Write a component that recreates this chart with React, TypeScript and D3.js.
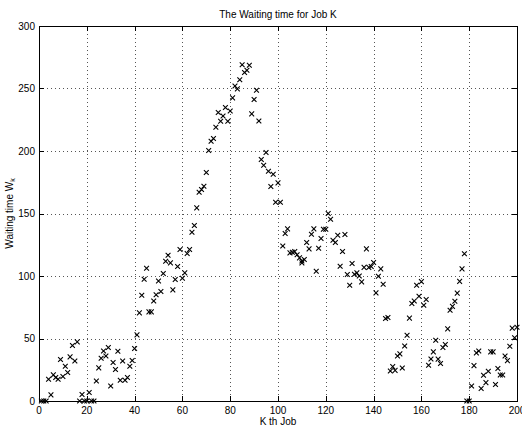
import React from "react";
import * as d3 from "d3";

const jobs = [
  1, 2, 3, 4, 5, 6, 7, 8, 9, 10,
  11, 12, 13, 14, 15, 16, 17, 18, 19, 20,
  21, 22, 23, 24, 25, 26, 27, 28, 29, 30,
  31, 32, 33, 34, 35, 36, 37, 38, 39, 40,
  41, 42, 43, 44, 45, 46, 47, 48, 49, 50,
  51, 52, 53, 54, 55, 56, 57, 58, 59, 60,
  61, 62, 63, 64, 65, 66, 67, 68, 69, 70,
  71, 72, 73, 74, 75, 76, 77, 78, 79, 80,
  81, 82, 83, 84, 85, 86, 87, 88, 89, 90,
  91, 92, 93, 94, 95, 96, 97, 98, 99, 100,
  101, 102, 103, 104, 105, 106, 107, 108, 109, 110,
  110,
  111, 112, 113, 114, 115, 116, 117, 118, 119, 120,
  121, 122, 123, 124, 125, 126, 127, 128, 129, 130,
  131, 132, 133, 134, 135, 136, 137, 138, 139, 140,
  141, 142, 143, 144, 145, 146, 147, 148, 149, 150,
  151, 152, 153, 154, 155, 156, 157, 158, 159, 160,
  161, 162, 163, 164, 165, 166, 167, 168, 169, 170,
  171, 172, 173, 174, 175, 176, 177, 178, 179, 180,
  181, 182, 183, 184, 185, 186, 187, 188, 189, 190,
  191, 192, 193, 194, 195, 196, 197, 198, 199, 200,
];

const waitingTimes = [
  0, 0, 0, 17.4, 4.9, 20.9, 18.8, 17.4, 33.2, 19.6,
  27.8, 22.8, 35.3, 44.4, 32, 47.3, 0, 5.2, 0, 0,
  6.8, 0, 0, 16, 26.5, 34.2, 40, 36, 42.8, 12,
  30.8, 25.2, 39.8, 16.6, 32, 16.6, 18.8, 27.8, 32.4, 42,
  52.9, 70.5, 84.6, 97.4, 106.2, 71.3, 71.3, 80, 85, 96,
  87.6, 102, 111.8, 116.6, 110.5, 88.9, 97.2, 107.6, 121.2, 98.2,
  102.5, 118, 121.2, 135, 140.4, 154.5, 167, 169.2, 171.8, 182.8,
  200.4, 207.8, 210, 219, 230.8, 223.8, 228, 234.8, 223.8, 232,
  242.5, 252, 249.7, 257, 269, 262.8, 264.6, 268.6, 229.7, 241.2,
  248.6, 224, 193.2, 188.6, 198.8, 183.8, 171.6, 181.4, 159, 174.5,
  159, 124, 134, 137.7, 118.5, 119, 119.5, 117, 114.5, 112,
  110.5,
  113.2, 126.8, 121.7, 133.4, 137.7, 103.8, 122.2, 130, 137.4, 137.4,
  150, 145.4, 128.6, 126.8, 132.6, 107.8, 119.6, 133.2, 101.2, 92.6,
  110, 101.4, 102.5, 100, 95.3, 106.9, 121.7, 106.9, 107.6, 110.8,
  86.5, 99.8, 105.7, 93.4, 66, 66.8, 24, 27.5, 24.5, 36,
  37.7, 26.4, 44, 52.6, 66.3, 78, 80, 92.6, 83.8, 95.5,
  76.6, 81.2, 28.6, 33.6, 39.3, 48.6, 33.5, 30, 42.8, 45.2,
  57.7, 72.6, 75.7, 79.8, 86.3, 95.7, 105.7, 117.8, 0, 0,
  12, 28.3, 38.5, 40, 10, 20.6, 14.7, 23.8, 39.3, 39.3,
  13.2, 26, 20.8, 20.8, 36, 32.3, 43.8, 58.3, 50.6, 59,
];

const xTicks = [0, 20, 40, 60, 80, 100, 120, 140, 160, 180, 200];
const yTicks = [0, 50, 100, 150, 200, 250, 300];

const title = "The Waiting time for Job K";
const xLabel = "K th Job";

const W = 522;
const H = 431;
const left = 39;
const right = 517;
const top = 26;
const bottom = 401;
const FONT = "'Liberation Sans', Arial, Helvetica, sans-serif";

export default function App() {
  const x = d3.scaleLinear().domain([0, 200]).range([left, right]);
  const y = d3.scaleLinear().domain([0, 300]).range([bottom, top]);
  const tick = 5;
  const m = 2.4;

  return (
    <svg
      width={W}
      height={H}
      style={{ position: "absolute", left: 0, top: 0, background: "#fff" }}
      fontFamily={FONT}
    >
      <rect x={0} y={0} width={W} height={H} fill="#fff" />
      {/* grid */}
      <g stroke="#555" strokeWidth={1} strokeDasharray="1 3" shapeRendering="crispEdges">
        {xTicks.slice(1, -1).map((t) => (
          <line key={"gx" + t} x1={Math.round(x(t)) + 0.5} x2={Math.round(x(t)) + 0.5} y1={top} y2={bottom} />
        ))}
        {yTicks.slice(1, -1).map((t) => (
          <line key={"gy" + t} x1={left} x2={right} y1={Math.round(y(t)) + 0.5} y2={Math.round(y(t)) + 0.5} />
        ))}
      </g>
      {/* ticks */}
      <g stroke="#000" strokeWidth={1} shapeRendering="crispEdges">
        {xTicks.map((t) => (
          <g key={"tx" + t}>
            <line x1={Math.round(x(t)) + 0.5} x2={Math.round(x(t)) + 0.5} y1={bottom} y2={bottom - tick} />
            <line x1={Math.round(x(t)) + 0.5} x2={Math.round(x(t)) + 0.5} y1={top} y2={top + tick} />
          </g>
        ))}
        {yTicks.map((t) => (
          <g key={"ty" + t}>
            <line x1={left} x2={left + tick} y1={Math.round(y(t)) + 0.5} y2={Math.round(y(t)) + 0.5} />
            <line x1={right} x2={right - tick} y1={Math.round(y(t)) + 0.5} y2={Math.round(y(t)) + 0.5} />
          </g>
        ))}
      </g>
      {/* box */}
      <rect
        x={left + 0.5}
        y={top + 0.5}
        width={right - left}
        height={bottom - top}
        fill="none"
        stroke="#000"
        strokeWidth={1}
        shapeRendering="crispEdges"
      />
      {/* markers */}
      <g stroke="#000" strokeWidth={1.1} fill="none">
        {jobs.map((j, i) => {
          const cx = x(j);
          const cy = y(waitingTimes[i]);
          return (
            <path
              key={"p" + i}
              d={`M${cx - m},${cy - m}L${cx + m},${cy + m}M${cx - m},${cy + m}L${cx + m},${cy - m}`}
            />
          );
        })}
      </g>
      {/* tick labels */}
      <g fontSize={10} fill="#000">
        {xTicks.map((t) => (
          <text key={"lx" + t} x={x(t)} y={bottom + 13} textAnchor="middle">
            {t}
          </text>
        ))}
        {yTicks.map((t) => (
          <text key={"ly" + t} x={left - 4} y={y(t) + 3.5} textAnchor="end">
            {t}
          </text>
        ))}
      </g>
      <text x={(left + right) / 2} y={18} fontSize={10} textAnchor="middle" fill="#000">
        {title}
      </text>
      <text x={(left + right) / 2} y={425} fontSize={10} textAnchor="middle" fill="#000">
        {xLabel}
      </text>
      <text
        transform={`translate(13,${(top + bottom) / 2}) rotate(-90)`}
        fontSize={10}
        textAnchor="middle"
        fill="#000"
      >
        Waiting time W<tspan fontSize={7} dy={2}>k</tspan>
      </text>
    </svg>
  );
}
